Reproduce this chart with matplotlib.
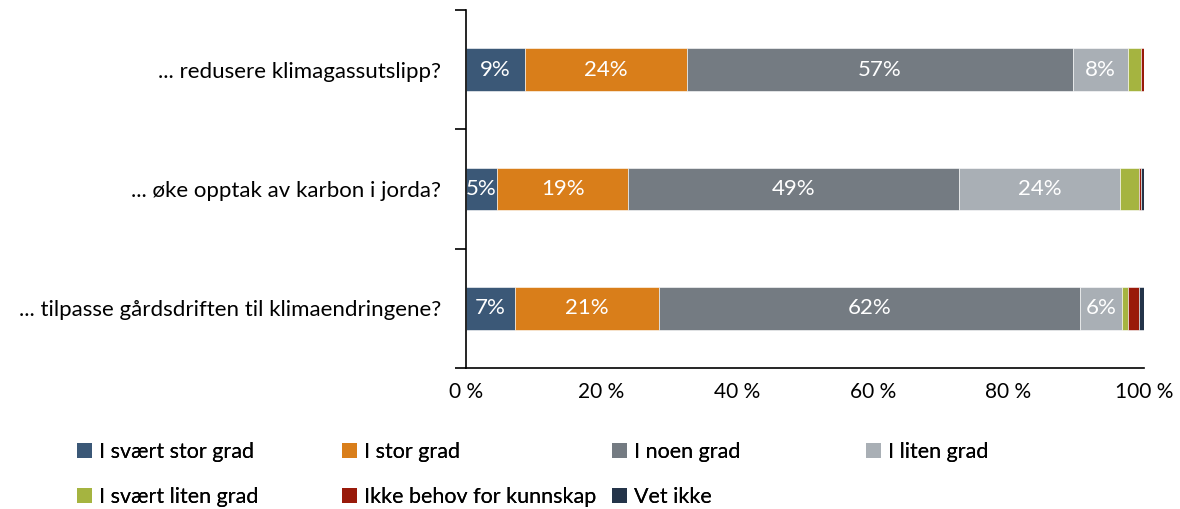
import numpy as np
import matplotlib
matplotlib.use("Agg")
import matplotlib.pyplot as plt
from matplotlib.patches import Patch

plt.rcParams['font.family'] = ['Lato', 'DejaVu Sans']

questions = ['... redusere klimagassutslipp?',
             '... øke opptak av karbon i jorda?',
             '... tilpasse gårdsdriften til klimaendringene?']
series = ['I svært stor grad', 'I stor grad', 'I noen grad', 'I liten grad',
          'I svært liten grad', 'Ikke behov for kunnskap', 'Vet ikke']
colors = ['#3B5877', '#D97E1A', '#747B82', '#A9AFB5', '#A5B440', '#991A0A', '#243449']

svaert_stor = [8.7, 4.6, 7.2]
stor = [23.9, 19.3, 21.2]
noen = [56.9, 48.8, 62.2]
liten = [8.2, 23.8, 6.2]
svaert_liten = [1.9, 2.8, 0.9]
ikke_behov = [0.4, 0.3, 1.5]
vet_ikke = [0.0, 0.4, 0.8]

values = [svaert_stor, stor, noen, liten, svaert_liten, ikke_behov, vet_ikke]

fig = plt.figure(figsize=(11.8, 5.09), dpi=100)
ax = fig.add_axes([466 / 1180, 1 - 368 / 509, 678 / 1180, 358 / 509])

y = np.arange(len(questions))
left = np.zeros(len(questions))
for i, (vals, name, col) in enumerate(zip(values, series, colors)):
    vals = np.array(vals)
    bars = ax.barh(y, vals, left=left, height=0.36, color=col, label=name,
                   edgecolor='white', linewidth=0.4)
    if i < 4:
        for b, v in zip(bars, vals):
            if v >= 4:
                ax.text(b.get_x() + b.get_width() / 2, b.get_y() + b.get_height() / 2,
                        f'{v:.0f}%', ha='center', va='center', color='white', fontsize=16)
    left += vals

ax.set_xlim(0, 100)
ax.set_ylim(2.5, -0.5)
ax.set_xticks([0, 20, 40, 60, 80, 100])
ax.set_xticklabels(['0 %', '20 %', '40 %', '60 %', '80 %', '100 %'], fontsize=15)
ax.tick_params(axis='x', length=0, pad=10)
ax.set_yticks(y)
ax.set_yticklabels(questions, fontsize=16)
ax.set_yticks([-0.5, 0.5, 1.5, 2.5], minor=True)
ax.tick_params(axis='y', which='major', length=0, pad=18)
ax.tick_params(axis='y', which='minor', length=8, width=1.2)
for s in ['top', 'right']:
    ax.spines[s].set_visible(False)
ax.spines['left'].set_linewidth(1.2)
ax.spines['bottom'].set_linewidth(1.2)

# legend: Excel style fixed columns, filled row by row
col_x = [77, 342, 612, 866]
row_y = [452, 497]
for k, (name, col) in enumerate(zip(series, colors)):
    r, c = divmod(k, 4)
    leg = fig.legend(handles=[Patch(facecolor=col, label=name)],
                     loc='center left',
                     bbox_to_anchor=(col_x[c] / 1180, 1 - row_y[r] / 509),
                     frameon=False, fontsize=15.5, handlelength=0.7, handleheight=0.7,
                     handletextpad=0.3, borderaxespad=0, borderpad=0)
    fig.add_artist(leg)

fig.savefig('out.png', dpi=100)
